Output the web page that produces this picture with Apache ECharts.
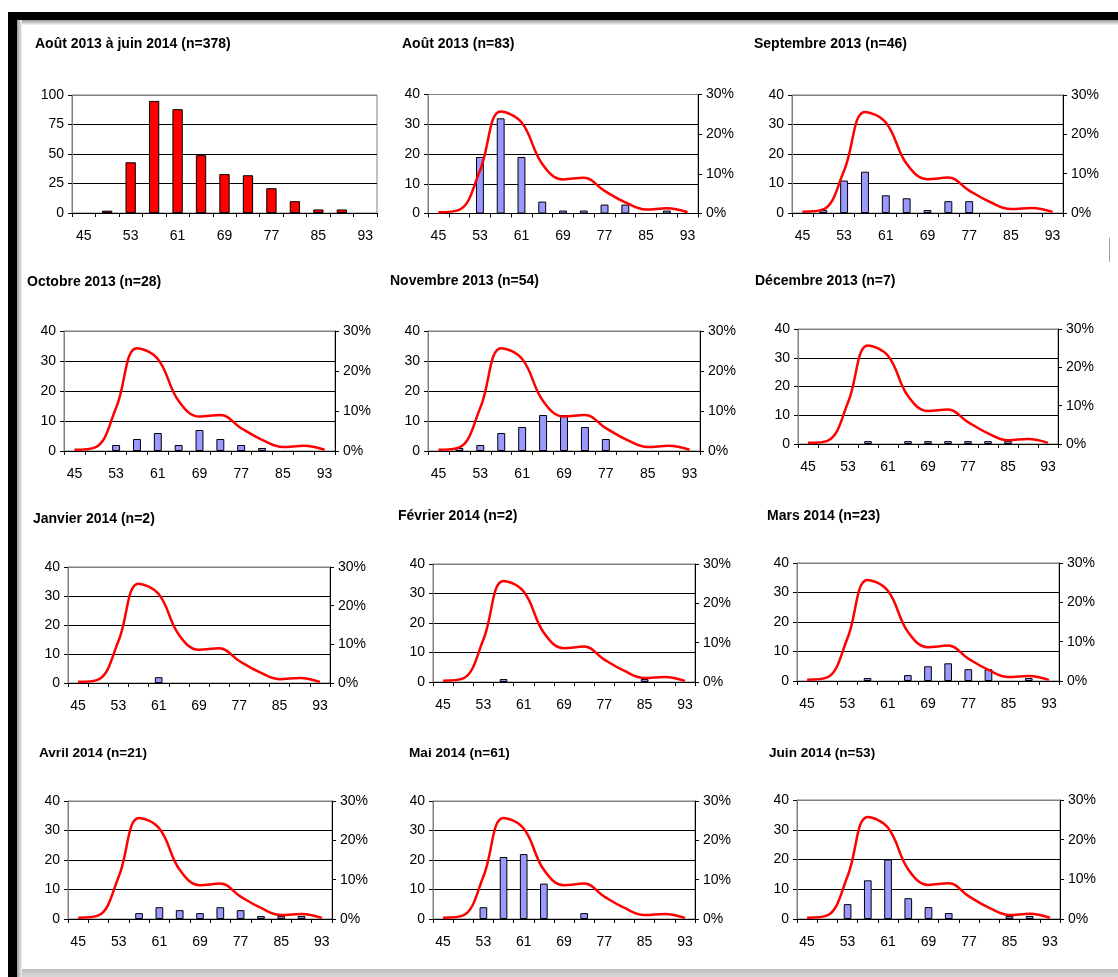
<!DOCTYPE html>
<html><head><meta charset="utf-8">
<script src="https://cdn.jsdelivr.net/npm/echarts@6/dist/echarts.min.js"></script>
<style>html,body{margin:0;padding:0;background:#fff}#c{width:1118px;height:977px}</style>
</head><body><div id="c"></div>
<script>
// ---- data ----
const categories = ['45','49','53','57','61','65','69','73','77','81','85','89','93'];
const totalTitle = 'Août 2013 à juin 2014 (n=378)';
const totalCounts = [0,2,43,95,88,49,33,32,21,10,3,3,0];
const refPercent = [0.3,0.9,10.8,25.7,23.0,12.5,8.6,9.0,5.7,2.8,1.0,1.3,0.3];
const monthTitles = ['Août 2013 (n=83)','Septembre 2013 (n=46)','Octobre 2013 (n=28)','Novembre 2013 (n=54)',
  'Décembre 2013 (n=7)','Janvier 2014 (n=2)','Février 2014 (n=2)','Mars 2014 (n=23)',
  'Avril 2014 (n=21)','Mai 2014 (n=61)','Juin 2014 (n=53)'];
const aout2013 = [0,0,19,32,19,4,1,1,3,3,0,1,0];
const sept2013 = [0,1,11,14,6,5,1,4,4,0,0,0,0];
const oct2013  = [0,0,2,4,6,2,7,4,2,1,0,0,0];
const nov2013  = [0,1,2,6,8,12,12,8,4,0,0,0,0];
const dec2013  = [0,0,0,1,0,1,1,1,1,1,1,0,0];
const jan2014  = [0,0,0,0,2,0,0,0,0,0,0,0,0];
const fev2014  = [0,0,0,1,0,0,0,0,0,0,1,0,0];
const mar2014  = [0,0,0,1,0,2,5,6,4,4,0,1,0];
const avr2014  = [0,0,0,2,4,3,2,4,3,1,1,1,0];
const mai2014  = [0,0,4,21,22,12,0,2,0,0,0,0,0];
const juin2014 = [0,0,5,13,20,7,4,2,0,0,1,1,0];
const monthCounts = [aout2013,sept2013,oct2013,nov2013,dec2013,jan2014,fev2014,mar2014,avr2014,mai2014,juin2014];

// ---- layout ----
const FONT = "'Liberation Sans', Arial, sans-serif";
const grids = [
  {l:72,t:95,w:305,h:118},
  {l:428,t:94.5,w:270,h:119},
  {l:792,t:95,w:271,h:118},
  {l:64,t:331,w:271,h:120},
  {l:428,t:331,w:272,h:120},
  {l:798,t:329,w:260,h:115},
  {l:68,t:567,w:262,h:116},
  {l:433,t:564,w:262,h:118},
  {l:797,t:563,w:262,h:118},
  {l:68,t:801,w:264,h:118},
  {l:433,t:801,w:262,h:118},
  {l:797,t:800,w:263,h:119}
];
const titlePos = [
  [35,45],[402,45],[754,45],
  [27,283],[390,282],[755,282],
  [33,520],[398,517],[767,517],
  [39,754],[409,754],[769,754]
];
const allTitles = [totalTitle].concat(monthTitles);

const option = {
  animation:false,
  backgroundColor:'#fff',
  textStyle:{fontFamily:FONT},
  title:[], grid:[], xAxis:[], yAxis:[], series:[],
  graphic:[
    {type:'rect',shape:{x:10,y:12,width:1108,height:8},style:{fill:'#000'}},
    {type:'rect',shape:{x:8,y:12,width:9,height:965},style:{fill:'#000'}},
    {type:'rect',shape:{x:17,y:20,width:1101,height:5},style:{fill:new echarts.graphic.LinearGradient(0,0,0,1,[{offset:0,color:'#9a9a9a'},{offset:1,color:'#f4f4f4'}])}},
    {type:'rect',shape:{x:17,y:20,width:5,height:957},style:{fill:new echarts.graphic.LinearGradient(0,0,1,0,[{offset:0,color:'#9a9a9a'},{offset:1,color:'#f4f4f4'}])}},
    {type:'rect',shape:{x:22,y:969,width:1096,height:8},style:{fill:new echarts.graphic.LinearGradient(0,0,0,1,[{offset:0,color:'#bdbdbd'},{offset:1,color:'#d8d8d8'}])}},
    {type:'line',shape:{x1:1109.5,y1:238,x2:1109.5,y2:262},style:{stroke:'#a0a0a0',lineWidth:1}}
  ]
};

const axisLabelStyle = {color:'#000',fontSize:14,fontFamily:FONT};

grids.forEach((g,i)=>{
  option.title.push({text:allTitles[i],left:titlePos[i][0],top:titlePos[i][1]-8,padding:0,
    textStyle:{fontSize:i>=9?13.6:14,fontWeight:'bold',color:'#000',fontFamily:FONT}});
  option.grid.push({left:g.l,top:g.t,width:g.w,height:g.h,show:true,borderColor:'#808080',borderWidth:1,backgroundColor:'transparent'});
  option.xAxis.push({type:'category',gridIndex:i,data:categories,boundaryGap:true,
    axisLine:{show:true,lineStyle:{color:'#000',width:1}},
    axisTick:{show:true,interval:0,length:4,lineStyle:{color:'#000'}},
    axisLabel:Object.assign({interval:1,margin:16},axisLabelStyle),
    splitLine:{show:false}});
  const isTotal = i===0;
  const leftIdx = option.yAxis.length;
  option.yAxis.push({type:'value',gridIndex:i,min:0,max:isTotal?100:40,interval:isTotal?25:10,position:'left',
    axisLine:{show:true,lineStyle:{color:'#808080'}},
    axisTick:{show:true,length:4,lineStyle:{color:'#000'}},
    axisLabel:Object.assign({margin:8},axisLabelStyle),
    splitLine:{show:true,lineStyle:{color:['#000','#000','#000','#000','#808080'],width:1}}});
  if(isTotal){
    option.series.push({type:'bar',xAxisIndex:i,yAxisIndex:leftIdx,data:totalCounts.map(v=>v===0?null:v),
      barWidth:'44%',itemStyle:{color:'#FF0000',borderColor:'#000',borderWidth:1}});
  } else {
    const rightIdx = option.yAxis.length;
    option.yAxis.push({type:'value',gridIndex:i,min:0,max:30,interval:10,position:'right',
      axisLine:{show:true,lineStyle:{color:'#000'}},
      axisTick:{show:true,length:4,lineStyle:{color:'#000'}},
      axisLabel:Object.assign({margin:8,formatter:'{value}%'},axisLabelStyle),
      splitLine:{show:false}});
    option.series.push({type:'bar',xAxisIndex:i,yAxisIndex:leftIdx,data:monthCounts[i-1].map(v=>v===0?null:v),
      barWidth:'38%',itemStyle:{color:'#9999FF',borderColor:'#000',borderWidth:1}});
    option.series.push({type:'line',xAxisIndex:i,yAxisIndex:rightIdx,data:refPercent,smooth:0.4,
      symbol:'none',lineStyle:{color:'#FF0000',width:2.5},z:5});
  }
});

const chart = echarts.init(document.getElementById('c'),null,{renderer:'canvas'});
chart.setOption(option);
</script>
</body></html>
